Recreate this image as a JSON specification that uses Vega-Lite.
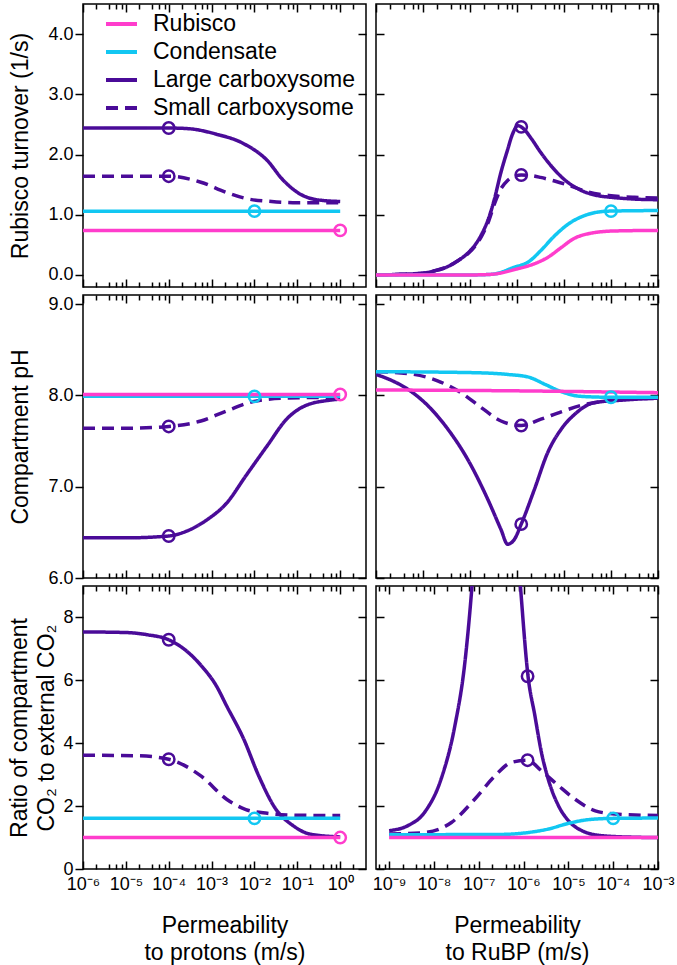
{
  "$schema": "https://vega.github.io/schema/vega-lite/v6.json",
  "padding": {"left": 8, "top": 2, "right": 0, "bottom": 0},
  "background": "white",
  "config": {
    "font": "Liberation Sans",
    "view": {"stroke": "black", "strokeWidth": 1.5},
    "axis": {"grid": false, "domain": false, "tickColor": "black", "tickWidth": 1.5, "labelColor": "black", "titleColor": "black", "labelFont": "Liberation Sans", "titleFont": "Liberation Sans", "labelFontSize": 18, "titleFontSize": 23, "titleFontWeight": "normal", "labelFlush": false, "labelOverlap": false, "labelBound": false},
    "legend": {"orient": "none", "legendX": 21, "legendY": 6, "labelFontSize": 23, "labelFont": "Liberation Sans", "labelColor": "black", "labelLimit": 400, "symbolType": "stroke", "symbolSize": 961, "symbolStrokeWidth": 4, "rowPadding": 0, "clipHeight": 28, "labelOffset": 14, "padding": 0}
  },
  "data": {"values": [
    {"panel":"A","series":"Small carboxysome","kind":"line","p":1e-6,"v":1.64},
    {"panel":"A","series":"Small carboxysome","kind":"line","p":1e-5,"v":1.64},
    {"panel":"A","series":"Small carboxysome","kind":"line","p":1e-4,"v":1.64},
    {"panel":"A","series":"Small carboxysome","kind":"line","p":5.623e-4,"v":1.54},
    {"panel":"A","series":"Small carboxysome","kind":"line","p":2.239e-3,"v":1.37},
    {"panel":"A","series":"Small carboxysome","kind":"line","p":6.310e-3,"v":1.27},
    {"panel":"A","series":"Small carboxysome","kind":"line","p":2.512e-2,"v":1.22},
    {"panel":"A","series":"Small carboxysome","kind":"line","p":0.1,"v":1.20},
    {"panel":"A","series":"Small carboxysome","kind":"line","p":1,"v":1.20},
    {"panel":"A","series":"Large carboxysome","kind":"line","p":1e-6,"v":2.44},
    {"panel":"A","series":"Large carboxysome","kind":"line","p":1e-5,"v":2.44},
    {"panel":"A","series":"Large carboxysome","kind":"line","p":1e-4,"v":2.44},
    {"panel":"A","series":"Large carboxysome","kind":"line","p":2.818e-4,"v":2.43},
    {"panel":"A","series":"Large carboxysome","kind":"line","p":1.259e-3,"v":2.34},
    {"panel":"A","series":"Large carboxysome","kind":"line","p":5.623e-3,"v":2.18},
    {"panel":"A","series":"Large carboxysome","kind":"line","p":1.995e-2,"v":1.90},
    {"panel":"A","series":"Large carboxysome","kind":"line","p":4.467e-2,"v":1.59},
    {"panel":"A","series":"Large carboxysome","kind":"line","p":0.1122,"v":1.35},
    {"panel":"A","series":"Large carboxysome","kind":"line","p":0.2818,"v":1.25},
    {"panel":"A","series":"Large carboxysome","kind":"line","p":1,"v":1.22},
    {"panel":"A","series":"Condensate","kind":"line","p":1e-6,"v":1.06},
    {"panel":"A","series":"Condensate","kind":"line","p":1e-3,"v":1.06},
    {"panel":"A","series":"Condensate","kind":"line","p":1,"v":1.06},
    {"panel":"A","series":"Rubisco","kind":"line","p":1e-6,"v":0.74},
    {"panel":"A","series":"Rubisco","kind":"line","p":1e-3,"v":0.74},
    {"panel":"A","series":"Rubisco","kind":"line","p":1,"v":0.74},
    {"panel":"A","series":"Small carboxysome","kind":"pt","p":1e-4,"v":1.64},
    {"panel":"A","series":"Large carboxysome","kind":"pt","p":1e-4,"v":2.44},
    {"panel":"A","series":"Condensate","kind":"pt","p":1e-2,"v":1.06},
    {"panel":"A","series":"Rubisco","kind":"pt","p":1,"v":0.74},

    {"panel":"B","series":"Small carboxysome","kind":"line","p":1e-9,"v":0.0},
    {"panel":"B","series":"Small carboxysome","kind":"line","p":3.162e-9,"v":0.01},
    {"panel":"B","series":"Small carboxysome","kind":"line","p":1e-8,"v":0.03},
    {"panel":"B","series":"Small carboxysome","kind":"line","p":1.778e-8,"v":0.07},
    {"panel":"B","series":"Small carboxysome","kind":"line","p":3.162e-8,"v":0.13},
    {"panel":"B","series":"Small carboxysome","kind":"line","p":5.623e-8,"v":0.24},
    {"panel":"B","series":"Small carboxysome","kind":"line","p":8.913e-8,"v":0.35},
    {"panel":"B","series":"Small carboxysome","kind":"line","p":1.259e-7,"v":0.47},
    {"panel":"B","series":"Small carboxysome","kind":"line","p":1.778e-7,"v":0.65},
    {"panel":"B","series":"Small carboxysome","kind":"line","p":2.512e-7,"v":0.90},
    {"panel":"B","series":"Small carboxysome","kind":"line","p":3.311e-7,"v":1.18},
    {"panel":"B","series":"Small carboxysome","kind":"line","p":4.467e-7,"v":1.42},
    {"panel":"B","series":"Small carboxysome","kind":"line","p":6.310e-7,"v":1.57},
    {"panel":"B","series":"Small carboxysome","kind":"line","p":8.913e-7,"v":1.64},
    {"panel":"B","series":"Small carboxysome","kind":"line","p":1.230e-6,"v":1.66},
    {"panel":"B","series":"Small carboxysome","kind":"line","p":1.995e-6,"v":1.65},
    {"panel":"B","series":"Small carboxysome","kind":"line","p":3.162e-6,"v":1.62},
    {"panel":"B","series":"Small carboxysome","kind":"line","p":6.310e-6,"v":1.56},
    {"panel":"B","series":"Small carboxysome","kind":"line","p":1.259e-5,"v":1.49},
    {"panel":"B","series":"Small carboxysome","kind":"line","p":3.162e-5,"v":1.38},
    {"panel":"B","series":"Small carboxysome","kind":"line","p":8.913e-5,"v":1.32},
    {"panel":"B","series":"Small carboxysome","kind":"line","p":3.162e-4,"v":1.29},
    {"panel":"B","series":"Small carboxysome","kind":"line","p":1e-3,"v":1.28},
    {"panel":"B","series":"Large carboxysome","kind":"line","p":1e-9,"v":0.0},
    {"panel":"B","series":"Large carboxysome","kind":"line","p":3.162e-9,"v":0.01},
    {"panel":"B","series":"Large carboxysome","kind":"line","p":1e-8,"v":0.03},
    {"panel":"B","series":"Large carboxysome","kind":"line","p":1.778e-8,"v":0.07},
    {"panel":"B","series":"Large carboxysome","kind":"line","p":3.162e-8,"v":0.13},
    {"panel":"B","series":"Large carboxysome","kind":"line","p":5.623e-8,"v":0.24},
    {"panel":"B","series":"Large carboxysome","kind":"line","p":8.913e-8,"v":0.36},
    {"panel":"B","series":"Large carboxysome","kind":"line","p":1.259e-7,"v":0.49},
    {"panel":"B","series":"Large carboxysome","kind":"line","p":1.778e-7,"v":0.68},
    {"panel":"B","series":"Large carboxysome","kind":"line","p":2.512e-7,"v":0.95},
    {"panel":"B","series":"Large carboxysome","kind":"line","p":3.311e-7,"v":1.26},
    {"panel":"B","series":"Large carboxysome","kind":"line","p":4.467e-7,"v":1.68},
    {"panel":"B","series":"Large carboxysome","kind":"line","p":6.310e-7,"v":2.08},
    {"panel":"B","series":"Large carboxysome","kind":"line","p":7.943e-7,"v":2.33},
    {"panel":"B","series":"Large carboxysome","kind":"line","p":1.047e-6,"v":2.48},
    {"panel":"B","series":"Large carboxysome","kind":"line","p":1.413e-6,"v":2.42},
    {"panel":"B","series":"Large carboxysome","kind":"line","p":1.995e-6,"v":2.27},
    {"panel":"B","series":"Large carboxysome","kind":"line","p":3.162e-6,"v":2.04},
    {"panel":"B","series":"Large carboxysome","kind":"line","p":5.623e-6,"v":1.79},
    {"panel":"B","series":"Large carboxysome","kind":"line","p":1e-5,"v":1.59},
    {"panel":"B","series":"Large carboxysome","kind":"line","p":2.239e-5,"v":1.41},
    {"panel":"B","series":"Large carboxysome","kind":"line","p":5.012e-5,"v":1.32},
    {"panel":"B","series":"Large carboxysome","kind":"line","p":1e-4,"v":1.29},
    {"panel":"B","series":"Large carboxysome","kind":"line","p":3.162e-4,"v":1.26},
    {"panel":"B","series":"Large carboxysome","kind":"line","p":1e-3,"v":1.25},
    {"panel":"B","series":"Condensate","kind":"line","p":1e-9,"v":0.0},
    {"panel":"B","series":"Condensate","kind":"line","p":1e-7,"v":0.0},
    {"panel":"B","series":"Condensate","kind":"line","p":2.818e-7,"v":0.01},
    {"panel":"B","series":"Condensate","kind":"line","p":8.913e-7,"v":0.13},
    {"panel":"B","series":"Condensate","kind":"line","p":1.778e-6,"v":0.22},
    {"panel":"B","series":"Condensate","kind":"line","p":3.162e-6,"v":0.40},
    {"panel":"B","series":"Condensate","kind":"line","p":6.310e-6,"v":0.65},
    {"panel":"B","series":"Condensate","kind":"line","p":1.259e-5,"v":0.85},
    {"panel":"B","series":"Condensate","kind":"line","p":2.818e-5,"v":0.99},
    {"panel":"B","series":"Condensate","kind":"line","p":8.913e-5,"v":1.06},
    {"panel":"B","series":"Condensate","kind":"line","p":1e-3,"v":1.07},
    {"panel":"B","series":"Rubisco","kind":"line","p":1e-9,"v":0.0},
    {"panel":"B","series":"Rubisco","kind":"line","p":1e-7,"v":0.0},
    {"panel":"B","series":"Rubisco","kind":"line","p":2.818e-7,"v":0.01},
    {"panel":"B","series":"Rubisco","kind":"line","p":1e-6,"v":0.10},
    {"panel":"B","series":"Rubisco","kind":"line","p":2.239e-6,"v":0.18},
    {"panel":"B","series":"Rubisco","kind":"line","p":4.467e-6,"v":0.29},
    {"panel":"B","series":"Rubisco","kind":"line","p":8.913e-6,"v":0.46},
    {"panel":"B","series":"Rubisco","kind":"line","p":1.585e-5,"v":0.60},
    {"panel":"B","series":"Rubisco","kind":"line","p":3.548e-5,"v":0.69},
    {"panel":"B","series":"Rubisco","kind":"line","p":1.122e-4,"v":0.73},
    {"panel":"B","series":"Rubisco","kind":"line","p":1e-3,"v":0.74},
    {"panel":"B","series":"Small carboxysome","kind":"pt","p":1.23e-6,"v":1.66},
    {"panel":"B","series":"Large carboxysome","kind":"pt","p":1.23e-6,"v":2.46},
    {"panel":"B","series":"Condensate","kind":"pt","p":1e-4,"v":1.06},

    {"panel":"C","series":"Small carboxysome","kind":"line","p":1e-6,"v":7.64},
    {"panel":"C","series":"Small carboxysome","kind":"line","p":1e-5,"v":7.64},
    {"panel":"C","series":"Small carboxysome","kind":"line","p":1e-4,"v":7.66},
    {"panel":"C","series":"Small carboxysome","kind":"line","p":5.623e-4,"v":7.72},
    {"panel":"C","series":"Small carboxysome","kind":"line","p":2.239e-3,"v":7.83},
    {"panel":"C","series":"Small carboxysome","kind":"line","p":8.913e-3,"v":7.93},
    {"panel":"C","series":"Small carboxysome","kind":"line","p":5.012e-2,"v":7.97},
    {"panel":"C","series":"Small carboxysome","kind":"line","p":1,"v":7.98},
    {"panel":"C","series":"Large carboxysome","kind":"line","p":1e-6,"v":6.44},
    {"panel":"C","series":"Large carboxysome","kind":"line","p":1e-5,"v":6.44},
    {"panel":"C","series":"Large carboxysome","kind":"line","p":1e-4,"v":6.46},
    {"panel":"C","series":"Large carboxysome","kind":"line","p":2.512e-4,"v":6.51},
    {"panel":"C","series":"Large carboxysome","kind":"line","p":7.943e-4,"v":6.64},
    {"panel":"C","series":"Large carboxysome","kind":"line","p":2.239e-3,"v":6.82},
    {"panel":"C","series":"Large carboxysome","kind":"line","p":6.310e-3,"v":7.12},
    {"panel":"C","series":"Large carboxysome","kind":"line","p":1.995e-2,"v":7.45},
    {"panel":"C","series":"Large carboxysome","kind":"line","p":5.623e-2,"v":7.74},
    {"panel":"C","series":"Large carboxysome","kind":"line","p":0.1585,"v":7.89},
    {"panel":"C","series":"Large carboxysome","kind":"line","p":0.631,"v":7.95},
    {"panel":"C","series":"Large carboxysome","kind":"line","p":1,"v":7.96},
    {"panel":"C","series":"Condensate","kind":"line","p":1e-6,"v":7.99},
    {"panel":"C","series":"Condensate","kind":"line","p":1,"v":7.99},
    {"panel":"C","series":"Rubisco","kind":"line","p":1e-6,"v":8.01},
    {"panel":"C","series":"Rubisco","kind":"line","p":1,"v":8.01},
    {"panel":"C","series":"Small carboxysome","kind":"pt","p":1e-4,"v":7.66},
    {"panel":"C","series":"Large carboxysome","kind":"pt","p":1e-4,"v":6.46},
    {"panel":"C","series":"Condensate","kind":"pt","p":1e-2,"v":7.99},
    {"panel":"C","series":"Rubisco","kind":"pt","p":1,"v":8.01},

    {"panel":"D","series":"Small carboxysome","kind":"line","p":1e-9,"v":8.26},
    {"panel":"D","series":"Small carboxysome","kind":"line","p":4.677e-9,"v":8.24},
    {"panel":"D","series":"Small carboxysome","kind":"line","p":2.042e-8,"v":8.16},
    {"panel":"D","series":"Small carboxysome","kind":"line","p":6.457e-8,"v":8.03},
    {"panel":"D","series":"Small carboxysome","kind":"line","p":1.698e-7,"v":7.87},
    {"panel":"D","series":"Small carboxysome","kind":"line","p":4.571e-7,"v":7.72},
    {"panel":"D","series":"Small carboxysome","kind":"line","p":1.230e-6,"v":7.67},
    {"panel":"D","series":"Small carboxysome","kind":"line","p":3.236e-6,"v":7.74},
    {"panel":"D","series":"Small carboxysome","kind":"line","p":8.710e-6,"v":7.82},
    {"panel":"D","series":"Small carboxysome","kind":"line","p":2.291e-5,"v":7.89},
    {"panel":"D","series":"Small carboxysome","kind":"line","p":8.511e-5,"v":7.94},
    {"panel":"D","series":"Small carboxysome","kind":"line","p":1e-3,"v":7.97},
    {"panel":"D","series":"Large carboxysome","kind":"line","p":1e-9,"v":8.23},
    {"panel":"D","series":"Large carboxysome","kind":"line","p":2.239e-9,"v":8.16},
    {"panel":"D","series":"Large carboxysome","kind":"line","p":4.677e-9,"v":8.07},
    {"panel":"D","series":"Large carboxysome","kind":"line","p":1.259e-8,"v":7.89},
    {"panel":"D","series":"Large carboxysome","kind":"line","p":3.388e-8,"v":7.63},
    {"panel":"D","series":"Large carboxysome","kind":"line","p":8.913e-8,"v":7.30},
    {"panel":"D","series":"Large carboxysome","kind":"line","p":2.399e-7,"v":6.86},
    {"panel":"D","series":"Large carboxysome","kind":"line","p":4.571e-7,"v":6.53},
    {"panel":"D","series":"Large carboxysome","kind":"line","p":6.310e-7,"v":6.37},
    {"panel":"D","series":"Large carboxysome","kind":"line","p":8.710e-7,"v":6.42},
    {"panel":"D","series":"Large carboxysome","kind":"line","p":1.230e-6,"v":6.59},
    {"panel":"D","series":"Large carboxysome","kind":"line","p":2.344e-6,"v":6.97},
    {"panel":"D","series":"Large carboxysome","kind":"line","p":4.467e-6,"v":7.37},
    {"panel":"D","series":"Large carboxysome","kind":"line","p":8.710e-6,"v":7.63},
    {"panel":"D","series":"Large carboxysome","kind":"line","p":1.660e-5,"v":7.79},
    {"panel":"D","series":"Large carboxysome","kind":"line","p":4.365e-5,"v":7.92},
    {"panel":"D","series":"Large carboxysome","kind":"line","p":1.905e-4,"v":7.95},
    {"panel":"D","series":"Large carboxysome","kind":"line","p":1e-3,"v":7.97},
    {"panel":"D","series":"Condensate","kind":"line","p":1e-9,"v":8.26},
    {"panel":"D","series":"Condensate","kind":"line","p":1e-7,"v":8.25},
    {"panel":"D","series":"Condensate","kind":"line","p":6.310e-7,"v":8.23},
    {"panel":"D","series":"Condensate","kind":"line","p":1.778e-6,"v":8.20},
    {"panel":"D","series":"Condensate","kind":"line","p":3.981e-6,"v":8.12},
    {"panel":"D","series":"Condensate","kind":"line","p":8.913e-6,"v":8.04},
    {"panel":"D","series":"Condensate","kind":"line","p":2.239e-5,"v":7.99},
    {"panel":"D","series":"Condensate","kind":"line","p":1e-4,"v":7.98},
    {"panel":"D","series":"Condensate","kind":"line","p":1e-3,"v":7.98},
    {"panel":"D","series":"Rubisco","kind":"line","p":1e-9,"v":8.06},
    {"panel":"D","series":"Rubisco","kind":"line","p":1e-6,"v":8.05},
    {"panel":"D","series":"Rubisco","kind":"line","p":1e-3,"v":8.03},
    {"panel":"D","series":"Small carboxysome","kind":"pt","p":1.23e-6,"v":7.67},
    {"panel":"D","series":"Large carboxysome","kind":"pt","p":1.23e-6,"v":6.59},
    {"panel":"D","series":"Condensate","kind":"pt","p":1e-4,"v":7.98},

    {"panel":"E","series":"Small carboxysome","kind":"line","p":1e-6,"v":3.62},
    {"panel":"E","series":"Small carboxysome","kind":"line","p":1.995e-5,"v":3.60},
    {"panel":"E","series":"Small carboxysome","kind":"line","p":1e-4,"v":3.49},
    {"panel":"E","series":"Small carboxysome","kind":"line","p":5.623e-4,"v":2.96},
    {"panel":"E","series":"Small carboxysome","kind":"line","p":2.239e-3,"v":2.22},
    {"panel":"E","series":"Small carboxysome","kind":"line","p":6.310e-3,"v":1.89},
    {"panel":"E","series":"Small carboxysome","kind":"line","p":1.995e-2,"v":1.77},
    {"panel":"E","series":"Small carboxysome","kind":"line","p":0.1,"v":1.71},
    {"panel":"E","series":"Small carboxysome","kind":"line","p":1,"v":1.70},
    {"panel":"E","series":"Large carboxysome","kind":"line","p":1e-6,"v":7.54},
    {"panel":"E","series":"Large carboxysome","kind":"line","p":1e-5,"v":7.52},
    {"panel":"E","series":"Large carboxysome","kind":"line","p":3.162e-5,"v":7.45},
    {"panel":"E","series":"Large carboxysome","kind":"line","p":1e-4,"v":7.29},
    {"panel":"E","series":"Large carboxysome","kind":"line","p":2.512e-4,"v":6.95},
    {"panel":"E","series":"Large carboxysome","kind":"line","p":6.310e-4,"v":6.40},
    {"panel":"E","series":"Large carboxysome","kind":"line","p":1.259e-3,"v":5.85},
    {"panel":"E","series":"Large carboxysome","kind":"line","p":2.239e-3,"v":5.19},
    {"panel":"E","series":"Large carboxysome","kind":"line","p":5.623e-3,"v":4.13},
    {"panel":"E","series":"Large carboxysome","kind":"line","p":1.259e-2,"v":2.96},
    {"panel":"E","series":"Large carboxysome","kind":"line","p":3.162e-2,"v":1.90},
    {"panel":"E","series":"Large carboxysome","kind":"line","p":7.943e-2,"v":1.38},
    {"panel":"E","series":"Large carboxysome","kind":"line","p":0.1995,"v":1.11},
    {"panel":"E","series":"Large carboxysome","kind":"line","p":1,"v":1.02},
    {"panel":"E","series":"Condensate","kind":"line","p":1e-6,"v":1.61},
    {"panel":"E","series":"Condensate","kind":"line","p":1,"v":1.61},
    {"panel":"E","series":"Rubisco","kind":"line","p":1e-6,"v":1.0},
    {"panel":"E","series":"Rubisco","kind":"line","p":1,"v":1.0},
    {"panel":"E","series":"Small carboxysome","kind":"pt","p":1e-4,"v":3.49},
    {"panel":"E","series":"Large carboxysome","kind":"pt","p":1e-4,"v":7.29},
    {"panel":"E","series":"Condensate","kind":"pt","p":1e-2,"v":1.61},
    {"panel":"E","series":"Rubisco","kind":"pt","p":1,"v":1.0},

    {"panel":"F","series":"Small carboxysome","kind":"line","p":1e-9,"v":1.11},
    {"panel":"F","series":"Small carboxysome","kind":"line","p":6.166e-9,"v":1.16},
    {"panel":"F","series":"Small carboxysome","kind":"line","p":2.455e-8,"v":1.48},
    {"panel":"F","series":"Small carboxysome","kind":"line","p":8.128e-8,"v":2.22},
    {"panel":"F","series":"Small carboxysome","kind":"line","p":2.291e-7,"v":2.96},
    {"panel":"F","series":"Small carboxysome","kind":"line","p":5.370e-7,"v":3.39},
    {"panel":"F","series":"Small carboxysome","kind":"line","p":1.230e-6,"v":3.46},
    {"panel":"F","series":"Small carboxysome","kind":"line","p":2.512e-6,"v":3.12},
    {"panel":"F","series":"Small carboxysome","kind":"line","p":6.026e-6,"v":2.65},
    {"panel":"F","series":"Small carboxysome","kind":"line","p":1.413e-5,"v":2.22},
    {"panel":"F","series":"Small carboxysome","kind":"line","p":3.981e-5,"v":1.85},
    {"panel":"F","series":"Small carboxysome","kind":"line","p":1.096e-4,"v":1.75},
    {"panel":"F","series":"Small carboxysome","kind":"line","p":1e-3,"v":1.70},
    {"panel":"F","series":"Large carboxysome","kind":"line","p":1e-9,"v":1.22},
    {"panel":"F","series":"Large carboxysome","kind":"line","p":2.630e-9,"v":1.38},
    {"panel":"F","series":"Large carboxysome","kind":"line","p":6.166e-9,"v":1.80},
    {"panel":"F","series":"Large carboxysome","kind":"line","p":1.445e-8,"v":2.86},
    {"panel":"F","series":"Large carboxysome","kind":"line","p":2.884e-8,"v":4.5},
    {"panel":"F","series":"Large carboxysome","kind":"line","p":4.898e-8,"v":6.56},
    {"panel":"F","series":"Large carboxysome","kind":"line","p":6.310e-8,"v":8.15},
    {"panel":"F","series":"Large carboxysome","kind":"line","p":7.079e-8,"v":9.0},
    {"panel":"F","series":"Large carboxysome","kind":"line","p":1e-7,"v":12},
    {"panel":"F","series":"Large carboxysome","kind":"line","p":2.512e-7,"v":17},
    {"panel":"F","series":"Large carboxysome","kind":"line","p":5.012e-7,"v":14},
    {"panel":"F","series":"Large carboxysome","kind":"line","p":7.079e-7,"v":10.5},
    {"panel":"F","series":"Large carboxysome","kind":"line","p":8.511e-7,"v":9.0},
    {"panel":"F","series":"Large carboxysome","kind":"line","p":1.259e-6,"v":6.13},
    {"panel":"F","series":"Large carboxysome","kind":"line","p":1.778e-6,"v":4.9},
    {"panel":"F","series":"Large carboxysome","kind":"line","p":2.512e-6,"v":3.70},
    {"panel":"F","series":"Large carboxysome","kind":"line","p":3.548e-6,"v":2.86},
    {"panel":"F","series":"Large carboxysome","kind":"line","p":6.026e-6,"v":2.01},
    {"panel":"F","series":"Large carboxysome","kind":"line","p":1e-5,"v":1.54},
    {"panel":"F","series":"Large carboxysome","kind":"line","p":1.995e-5,"v":1.22},
    {"panel":"F","series":"Large carboxysome","kind":"line","p":5.623e-5,"v":1.06},
    {"panel":"F","series":"Large carboxysome","kind":"line","p":3.162e-4,"v":1.01},
    {"panel":"F","series":"Large carboxysome","kind":"line","p":1e-3,"v":1.0},
    {"panel":"F","series":"Condensate","kind":"line","p":1e-9,"v":1.09},
    {"panel":"F","series":"Condensate","kind":"line","p":3.162e-7,"v":1.10},
    {"panel":"F","series":"Condensate","kind":"line","p":1.259e-6,"v":1.16},
    {"panel":"F","series":"Condensate","kind":"line","p":3.548e-6,"v":1.27},
    {"panel":"F","series":"Condensate","kind":"line","p":1e-5,"v":1.45},
    {"panel":"F","series":"Condensate","kind":"line","p":2.818e-5,"v":1.57},
    {"panel":"F","series":"Condensate","kind":"line","p":1e-4,"v":1.61},
    {"panel":"F","series":"Condensate","kind":"line","p":1e-3,"v":1.62},
    {"panel":"F","series":"Rubisco","kind":"line","p":1e-9,"v":1.0},
    {"panel":"F","series":"Rubisco","kind":"line","p":1e-3,"v":1.0},
    {"panel":"F","series":"Small carboxysome","kind":"pt","p":1.23e-6,"v":3.46},
    {"panel":"F","series":"Large carboxysome","kind":"pt","p":1.23e-6,"v":6.13},
    {"panel":"F","series":"Condensate","kind":"pt","p":1e-4,"v":1.61}
  ]},
  "columns": 2,
  "spacing": {"row": 8, "column": 10},
  "bounds": "flush",
  "concat": [
    {
      "width": 283, "height": 283,
      "transform": [{"filter": "datum.panel == 'A'"}],
      "layer": [
        {
          "transform": [{"filter": "datum.kind == 'line'"}],
          "mark": {"type": "line", "strokeWidth": 3.5, "interpolate": "monotone", "clip": true},
          "encoding": {
            "x": {"field": "p", "type": "quantitative", "scale": {"type": "log", "domain": [1e-6, 4], "nice": false},
                  "axis": {"orient": "bottom", "values": [1e-6,2e-6,4e-6,6e-6,8e-6,1e-5,2e-5,4e-5,6e-5,8e-5,1e-4,2e-4,4e-4,6e-4,8e-4,1e-3,2e-3,4e-3,6e-3,8e-3,1e-2,2e-2,4e-2,6e-2,8e-2,0.1,0.2,0.4,0.6,0.8,1,2], "labels": false, "title": null,
                           "tickSize": {"condition": {"test": "abs(log(datum.value)/LN10 - round(log(datum.value)/LN10)) < 0.01", "value": -8}, "value": -5}}},
            "y": {"field": "v", "type": "quantitative", "scale": {"domain": [-0.2, 4.5], "nice": false, "zero": false},
                  "axis": {"orient": "left", "values": [0,1,2,3,4], "format": ".1f", "tickSize": 8, "labelPadding": 2, "title": "Rubisco turnover (1/s)", "titlePadding": 15}},
            "color": {"field": "series", "type": "nominal", "scale": {"domain": ["Rubisco","Condensate","Large carboxysome","Small carboxysome"], "range": ["#ff3dcc","#12c7f2","#4a0b98","#4a0b98"]}, "legend": {"title": null}},
            "strokeDash": {"field": "series", "type": "nominal", "scale": {"domain": ["Rubisco","Condensate","Large carboxysome","Small carboxysome"], "range": [[1,0],[1,0],[1,0],[12,7]]}, "legend": {"title": null}}
          }
        },
        {
          "transform": [{"filter": "datum.kind == 'pt'"}],
          "mark": {"type": "point", "shape": "circle", "filled": false, "size": 130, "strokeWidth": 2.5, "opacity": 1},
          "encoding": {
            "x": {"field": "p", "type": "quantitative", "scale": {"type": "log", "domain": [1e-6, 4], "nice": false},
                  "axis": {"orient": "top", "values": [1e-6,2e-6,4e-6,6e-6,8e-6,1e-5,2e-5,4e-5,6e-5,8e-5,1e-4,2e-4,4e-4,6e-4,8e-4,1e-3,2e-3,4e-3,6e-3,8e-3,1e-2,2e-2,4e-2,6e-2,8e-2,0.1,0.2,0.4,0.6,0.8,1,2], "labels": false, "title": null,
                           "tickSize": {"condition": {"test": "abs(log(datum.value)/LN10 - round(log(datum.value)/LN10)) < 0.01", "value": -8}, "value": -5}}},
            "y": {"field": "v", "type": "quantitative", "scale": {"domain": [-0.2, 4.5], "nice": false, "zero": false},
                  "axis": {"orient": "right", "values": [0,1,2,3,4], "labels": false, "tickSize": -8, "title": null}},
            "stroke": {"field": "series", "type": "nominal", "scale": {"domain": ["Rubisco","Condensate","Large carboxysome","Small carboxysome"], "range": ["#ff3dcc","#12c7f2","#4a0b98","#4a0b98"]}, "legend": null}
          }
        }
      ],
      "resolve": {"axis": {"x": "independent", "y": "independent"}}
    },
    {
      "width": 282, "height": 283,
      "transform": [{"filter": "datum.panel == 'B'"}],
      "layer": [
        {
          "transform": [{"filter": "datum.kind == 'line'"}],
          "mark": {"type": "line", "strokeWidth": 3.5, "interpolate": "monotone", "clip": true},
          "encoding": {
            "x": {"field": "p", "type": "quantitative", "scale": {"type": "log", "domain": [1e-9, 1e-3], "nice": false},
                  "axis": {"orient": "bottom", "values": [1e-9,2e-9,4e-9,6e-9,8e-9,1e-8,2e-8,4e-8,6e-8,8e-8,1e-7,2e-7,4e-7,6e-7,8e-7,1e-6,2e-6,4e-6,6e-6,8e-6,1e-5,2e-5,4e-5,6e-5,8e-5,1e-4,2e-4,4e-4,6e-4,8e-4,1e-3], "labels": false, "title": null,
                           "tickSize": {"condition": {"test": "abs(log(datum.value)/LN10 - round(log(datum.value)/LN10)) < 0.01", "value": -8}, "value": -5}}},
            "y": {"field": "v", "type": "quantitative", "scale": {"domain": [-0.2, 4.5], "nice": false, "zero": false},
                  "axis": {"orient": "left", "values": [0,1,2,3,4], "labels": false, "tickSize": -8, "title": null}},
            "color": {"field": "series", "type": "nominal", "scale": {"domain": ["Rubisco","Condensate","Large carboxysome","Small carboxysome"], "range": ["#ff3dcc","#12c7f2","#4a0b98","#4a0b98"]}, "legend": {"title": null}},
            "strokeDash": {"field": "series", "type": "nominal", "scale": {"domain": ["Rubisco","Condensate","Large carboxysome","Small carboxysome"], "range": [[1,0],[1,0],[1,0],[12,7]]}, "legend": {"title": null}}
          }
        },
        {
          "transform": [{"filter": "datum.kind == 'pt'"}],
          "mark": {"type": "point", "shape": "circle", "filled": false, "size": 130, "strokeWidth": 2.5, "opacity": 1},
          "encoding": {
            "x": {"field": "p", "type": "quantitative", "scale": {"type": "log", "domain": [1e-9, 1e-3], "nice": false},
                  "axis": {"orient": "top", "values": [1e-9,2e-9,4e-9,6e-9,8e-9,1e-8,2e-8,4e-8,6e-8,8e-8,1e-7,2e-7,4e-7,6e-7,8e-7,1e-6,2e-6,4e-6,6e-6,8e-6,1e-5,2e-5,4e-5,6e-5,8e-5,1e-4,2e-4,4e-4,6e-4,8e-4,1e-3], "labels": false, "title": null,
                           "tickSize": {"condition": {"test": "abs(log(datum.value)/LN10 - round(log(datum.value)/LN10)) < 0.01", "value": -8}, "value": -5}}},
            "y": {"field": "v", "type": "quantitative", "scale": {"domain": [-0.2, 4.5], "nice": false, "zero": false},
                  "axis": {"orient": "right", "values": [0,1,2,3,4], "labels": false, "tickSize": -8, "title": null}},
            "stroke": {"field": "series", "type": "nominal", "scale": {"domain": ["Rubisco","Condensate","Large carboxysome","Small carboxysome"], "range": ["#ff3dcc","#12c7f2","#4a0b98","#4a0b98"]}, "legend": null}
          }
        }
      ],
      "resolve": {"axis": {"x": "independent", "y": "independent"}}
    },
    {
      "width": 283, "height": 283,
      "transform": [{"filter": "datum.panel == 'C'"}],
      "layer": [
        {
          "transform": [{"filter": "datum.kind == 'line'"}],
          "mark": {"type": "line", "strokeWidth": 3.5, "interpolate": "monotone", "clip": true},
          "encoding": {
            "x": {"field": "p", "type": "quantitative", "scale": {"type": "log", "domain": [1e-6, 4], "nice": false},
                  "axis": {"orient": "bottom", "values": [1e-6,2e-6,4e-6,6e-6,8e-6,1e-5,2e-5,4e-5,6e-5,8e-5,1e-4,2e-4,4e-4,6e-4,8e-4,1e-3,2e-3,4e-3,6e-3,8e-3,1e-2,2e-2,4e-2,6e-2,8e-2,0.1,0.2,0.4,0.6,0.8,1,2], "labels": false, "title": null,
                           "tickSize": {"condition": {"test": "abs(log(datum.value)/LN10 - round(log(datum.value)/LN10)) < 0.01", "value": -8}, "value": -5}}},
            "y": {"field": "v", "type": "quantitative", "scale": {"domain": [6, 9.1], "nice": false, "zero": false},
                  "axis": {"orient": "left", "values": [6,7,8,9], "format": ".1f", "tickSize": 8, "labelPadding": 2, "title": "Compartment pH", "titlePadding": 15}},
            "color": {"field": "series", "type": "nominal", "scale": {"domain": ["Rubisco","Condensate","Large carboxysome","Small carboxysome"], "range": ["#ff3dcc","#12c7f2","#4a0b98","#4a0b98"]}, "legend": {"title": null}},
            "strokeDash": {"field": "series", "type": "nominal", "scale": {"domain": ["Rubisco","Condensate","Large carboxysome","Small carboxysome"], "range": [[1,0],[1,0],[1,0],[12,7]]}, "legend": {"title": null}}
          }
        },
        {
          "transform": [{"filter": "datum.kind == 'pt'"}],
          "mark": {"type": "point", "shape": "circle", "filled": false, "size": 130, "strokeWidth": 2.5, "opacity": 1},
          "encoding": {
            "x": {"field": "p", "type": "quantitative", "scale": {"type": "log", "domain": [1e-6, 4], "nice": false},
                  "axis": {"orient": "top", "values": [1e-6,2e-6,4e-6,6e-6,8e-6,1e-5,2e-5,4e-5,6e-5,8e-5,1e-4,2e-4,4e-4,6e-4,8e-4,1e-3,2e-3,4e-3,6e-3,8e-3,1e-2,2e-2,4e-2,6e-2,8e-2,0.1,0.2,0.4,0.6,0.8,1,2], "labels": false, "title": null,
                           "tickSize": {"condition": {"test": "abs(log(datum.value)/LN10 - round(log(datum.value)/LN10)) < 0.01", "value": -8}, "value": -5}}},
            "y": {"field": "v", "type": "quantitative", "scale": {"domain": [6, 9.1], "nice": false, "zero": false},
                  "axis": {"orient": "right", "values": [6,7,8,9], "labels": false, "tickSize": -8, "title": null}},
            "stroke": {"field": "series", "type": "nominal", "scale": {"domain": ["Rubisco","Condensate","Large carboxysome","Small carboxysome"], "range": ["#ff3dcc","#12c7f2","#4a0b98","#4a0b98"]}, "legend": null}
          }
        }
      ],
      "resolve": {"axis": {"x": "independent", "y": "independent"}}
    },
    {
      "width": 282, "height": 283,
      "transform": [{"filter": "datum.panel == 'D'"}],
      "layer": [
        {
          "transform": [{"filter": "datum.kind == 'line'"}],
          "mark": {"type": "line", "strokeWidth": 3.5, "interpolate": "monotone", "clip": true},
          "encoding": {
            "x": {"field": "p", "type": "quantitative", "scale": {"type": "log", "domain": [1e-9, 1e-3], "nice": false},
                  "axis": {"orient": "bottom", "values": [1e-9,2e-9,4e-9,6e-9,8e-9,1e-8,2e-8,4e-8,6e-8,8e-8,1e-7,2e-7,4e-7,6e-7,8e-7,1e-6,2e-6,4e-6,6e-6,8e-6,1e-5,2e-5,4e-5,6e-5,8e-5,1e-4,2e-4,4e-4,6e-4,8e-4,1e-3], "labels": false, "title": null,
                           "tickSize": {"condition": {"test": "abs(log(datum.value)/LN10 - round(log(datum.value)/LN10)) < 0.01", "value": -8}, "value": -5}}},
            "y": {"field": "v", "type": "quantitative", "scale": {"domain": [6, 9.1], "nice": false, "zero": false},
                  "axis": {"orient": "left", "values": [6,7,8,9], "labels": false, "tickSize": -8, "title": null}},
            "color": {"field": "series", "type": "nominal", "scale": {"domain": ["Rubisco","Condensate","Large carboxysome","Small carboxysome"], "range": ["#ff3dcc","#12c7f2","#4a0b98","#4a0b98"]}, "legend": {"title": null}},
            "strokeDash": {"field": "series", "type": "nominal", "scale": {"domain": ["Rubisco","Condensate","Large carboxysome","Small carboxysome"], "range": [[1,0],[1,0],[1,0],[12,7]]}, "legend": {"title": null}}
          }
        },
        {
          "transform": [{"filter": "datum.kind == 'pt'"}],
          "mark": {"type": "point", "shape": "circle", "filled": false, "size": 130, "strokeWidth": 2.5, "opacity": 1},
          "encoding": {
            "x": {"field": "p", "type": "quantitative", "scale": {"type": "log", "domain": [1e-9, 1e-3], "nice": false},
                  "axis": {"orient": "top", "values": [1e-9,2e-9,4e-9,6e-9,8e-9,1e-8,2e-8,4e-8,6e-8,8e-8,1e-7,2e-7,4e-7,6e-7,8e-7,1e-6,2e-6,4e-6,6e-6,8e-6,1e-5,2e-5,4e-5,6e-5,8e-5,1e-4,2e-4,4e-4,6e-4,8e-4,1e-3], "labels": false, "title": null,
                           "tickSize": {"condition": {"test": "abs(log(datum.value)/LN10 - round(log(datum.value)/LN10)) < 0.01", "value": -8}, "value": -5}}},
            "y": {"field": "v", "type": "quantitative", "scale": {"domain": [6, 9.1], "nice": false, "zero": false},
                  "axis": {"orient": "right", "values": [6,7,8,9], "labels": false, "tickSize": -8, "title": null}},
            "stroke": {"field": "series", "type": "nominal", "scale": {"domain": ["Rubisco","Condensate","Large carboxysome","Small carboxysome"], "range": ["#ff3dcc","#12c7f2","#4a0b98","#4a0b98"]}, "legend": null}
          }
        }
      ],
      "resolve": {"axis": {"x": "independent", "y": "independent"}}
    },
    {
      "width": 283, "height": 283,
      "transform": [{"filter": "datum.panel == 'E'"}],
      "layer": [
        {
          "transform": [{"filter": "datum.kind == 'line'"}],
          "mark": {"type": "line", "strokeWidth": 3.5, "interpolate": "monotone", "clip": true},
          "encoding": {
            "x": {"field": "p", "type": "quantitative", "scale": {"type": "log", "domain": [1e-6, 4], "nice": false},
                  "axis": {"orient": "bottom", "values": [1e-6,2e-6,4e-6,6e-6,8e-6,1e-5,2e-5,4e-5,6e-5,8e-5,1e-4,2e-4,4e-4,6e-4,8e-4,1e-3,2e-3,4e-3,6e-3,8e-3,1e-2,2e-2,4e-2,6e-2,8e-2,0.1,0.2,0.4,0.6,0.8,1,2], "labels": true,
                           "labelExpr": "abs(log(datum.value)/LN10 - round(log(datum.value)/LN10)) < 0.01 ? '10' + replace(replace(replace(replace(replace(replace(replace(replace(replace(replace(replace(toString(round(log(datum.value)/LN10)), '-', '⁻'), '0', '⁰'), '1', '¹'), '2', '²'), '3', '³'), '4', '⁴'), '5', '⁵'), '6', '⁶'), '7', '⁷'), '8', '⁸'), '9', '⁹') : ''",
                           "labelPadding": 14, "title": ["Permeability", "to protons (m/s)"], "titlePadding": 18, "titleLineHeight": 27,
                           "tickSize": {"condition": {"test": "abs(log(datum.value)/LN10 - round(log(datum.value)/LN10)) < 0.01", "value": -8}, "value": -5}}},
            "y": {"field": "v", "type": "quantitative", "scale": {"domain": [0, 9], "nice": false, "zero": false},
                  "axis": {"orient": "left", "values": [0,2,4,6,8], "format": "d", "tickSize": 8, "labelPadding": 2, "title": ["Ratio of compartment", "CO₂ to external CO₂"], "titlePadding": 4, "titleLineHeight": 27}},
            "color": {"field": "series", "type": "nominal", "scale": {"domain": ["Rubisco","Condensate","Large carboxysome","Small carboxysome"], "range": ["#ff3dcc","#12c7f2","#4a0b98","#4a0b98"]}, "legend": {"title": null}},
            "strokeDash": {"field": "series", "type": "nominal", "scale": {"domain": ["Rubisco","Condensate","Large carboxysome","Small carboxysome"], "range": [[1,0],[1,0],[1,0],[12,7]]}, "legend": {"title": null}}
          }
        },
        {
          "transform": [{"filter": "datum.kind == 'pt'"}],
          "mark": {"type": "point", "shape": "circle", "filled": false, "size": 130, "strokeWidth": 2.5, "opacity": 1},
          "encoding": {
            "x": {"field": "p", "type": "quantitative", "scale": {"type": "log", "domain": [1e-6, 4], "nice": false},
                  "axis": {"orient": "top", "values": [1e-6,2e-6,4e-6,6e-6,8e-6,1e-5,2e-5,4e-5,6e-5,8e-5,1e-4,2e-4,4e-4,6e-4,8e-4,1e-3,2e-3,4e-3,6e-3,8e-3,1e-2,2e-2,4e-2,6e-2,8e-2,0.1,0.2,0.4,0.6,0.8,1,2], "labels": false, "title": null,
                           "tickSize": {"condition": {"test": "abs(log(datum.value)/LN10 - round(log(datum.value)/LN10)) < 0.01", "value": -8}, "value": -5}}},
            "y": {"field": "v", "type": "quantitative", "scale": {"domain": [0, 9], "nice": false, "zero": false},
                  "axis": {"orient": "right", "values": [0,2,4,6,8], "labels": false, "tickSize": -8, "title": null}},
            "stroke": {"field": "series", "type": "nominal", "scale": {"domain": ["Rubisco","Condensate","Large carboxysome","Small carboxysome"], "range": ["#ff3dcc","#12c7f2","#4a0b98","#4a0b98"]}, "legend": null}
          }
        }
      ],
      "resolve": {"axis": {"x": "independent", "y": "independent"}}
    },
    {
      "width": 282, "height": 283,
      "transform": [{"filter": "datum.panel == 'F'"}],
      "layer": [
        {
          "transform": [{"filter": "datum.kind == 'line'"}],
          "mark": {"type": "line", "strokeWidth": 3.5, "interpolate": "monotone", "clip": true},
          "encoding": {
            "x": {"field": "p", "type": "quantitative", "scale": {"type": "log", "domain": [5.1e-10, 1e-3], "nice": false},
                  "axis": {"orient": "bottom", "values": [6e-10,8e-10,1e-9,2e-9,4e-9,6e-9,8e-9,1e-8,2e-8,4e-8,6e-8,8e-8,1e-7,2e-7,4e-7,6e-7,8e-7,1e-6,2e-6,4e-6,6e-6,8e-6,1e-5,2e-5,4e-5,6e-5,8e-5,1e-4,2e-4,4e-4,6e-4,8e-4,1e-3], "labels": true,
                           "labelExpr": "abs(log(datum.value)/LN10 - round(log(datum.value)/LN10)) < 0.01 ? '10' + replace(replace(replace(replace(replace(replace(replace(replace(replace(replace(replace(toString(round(log(datum.value)/LN10)), '-', '⁻'), '0', '⁰'), '1', '¹'), '2', '²'), '3', '³'), '4', '⁴'), '5', '⁵'), '6', '⁶'), '7', '⁷'), '8', '⁸'), '9', '⁹') : ''",
                           "labelPadding": 14, "title": ["Permeability", "to RuBP (m/s)"], "titlePadding": 18, "titleLineHeight": 27,
                           "tickSize": {"condition": {"test": "abs(log(datum.value)/LN10 - round(log(datum.value)/LN10)) < 0.01", "value": -8}, "value": -5}}},
            "y": {"field": "v", "type": "quantitative", "scale": {"domain": [0, 9], "nice": false, "zero": false},
                  "axis": {"orient": "left", "values": [0,2,4,6,8], "labels": false, "tickSize": -8, "title": null}},
            "color": {"field": "series", "type": "nominal", "scale": {"domain": ["Rubisco","Condensate","Large carboxysome","Small carboxysome"], "range": ["#ff3dcc","#12c7f2","#4a0b98","#4a0b98"]}, "legend": {"title": null}},
            "strokeDash": {"field": "series", "type": "nominal", "scale": {"domain": ["Rubisco","Condensate","Large carboxysome","Small carboxysome"], "range": [[1,0],[1,0],[1,0],[12,7]]}, "legend": {"title": null}}
          }
        },
        {
          "transform": [{"filter": "datum.kind == 'pt'"}],
          "mark": {"type": "point", "shape": "circle", "filled": false, "size": 130, "strokeWidth": 2.5, "opacity": 1},
          "encoding": {
            "x": {"field": "p", "type": "quantitative", "scale": {"type": "log", "domain": [5.1e-10, 1e-3], "nice": false},
                  "axis": {"orient": "top", "values": [6e-10,8e-10,1e-9,2e-9,4e-9,6e-9,8e-9,1e-8,2e-8,4e-8,6e-8,8e-8,1e-7,2e-7,4e-7,6e-7,8e-7,1e-6,2e-6,4e-6,6e-6,8e-6,1e-5,2e-5,4e-5,6e-5,8e-5,1e-4,2e-4,4e-4,6e-4,8e-4,1e-3], "labels": false, "title": null,
                           "tickSize": {"condition": {"test": "abs(log(datum.value)/LN10 - round(log(datum.value)/LN10)) < 0.01", "value": -8}, "value": -5}}},
            "y": {"field": "v", "type": "quantitative", "scale": {"domain": [0, 9], "nice": false, "zero": false},
                  "axis": {"orient": "right", "values": [0,2,4,6,8], "labels": false, "tickSize": -8, "title": null}},
            "stroke": {"field": "series", "type": "nominal", "scale": {"domain": ["Rubisco","Condensate","Large carboxysome","Small carboxysome"], "range": ["#ff3dcc","#12c7f2","#4a0b98","#4a0b98"]}, "legend": null}
          }
        }
      ],
      "resolve": {"axis": {"x": "independent", "y": "independent"}}
    }
  ]
}
